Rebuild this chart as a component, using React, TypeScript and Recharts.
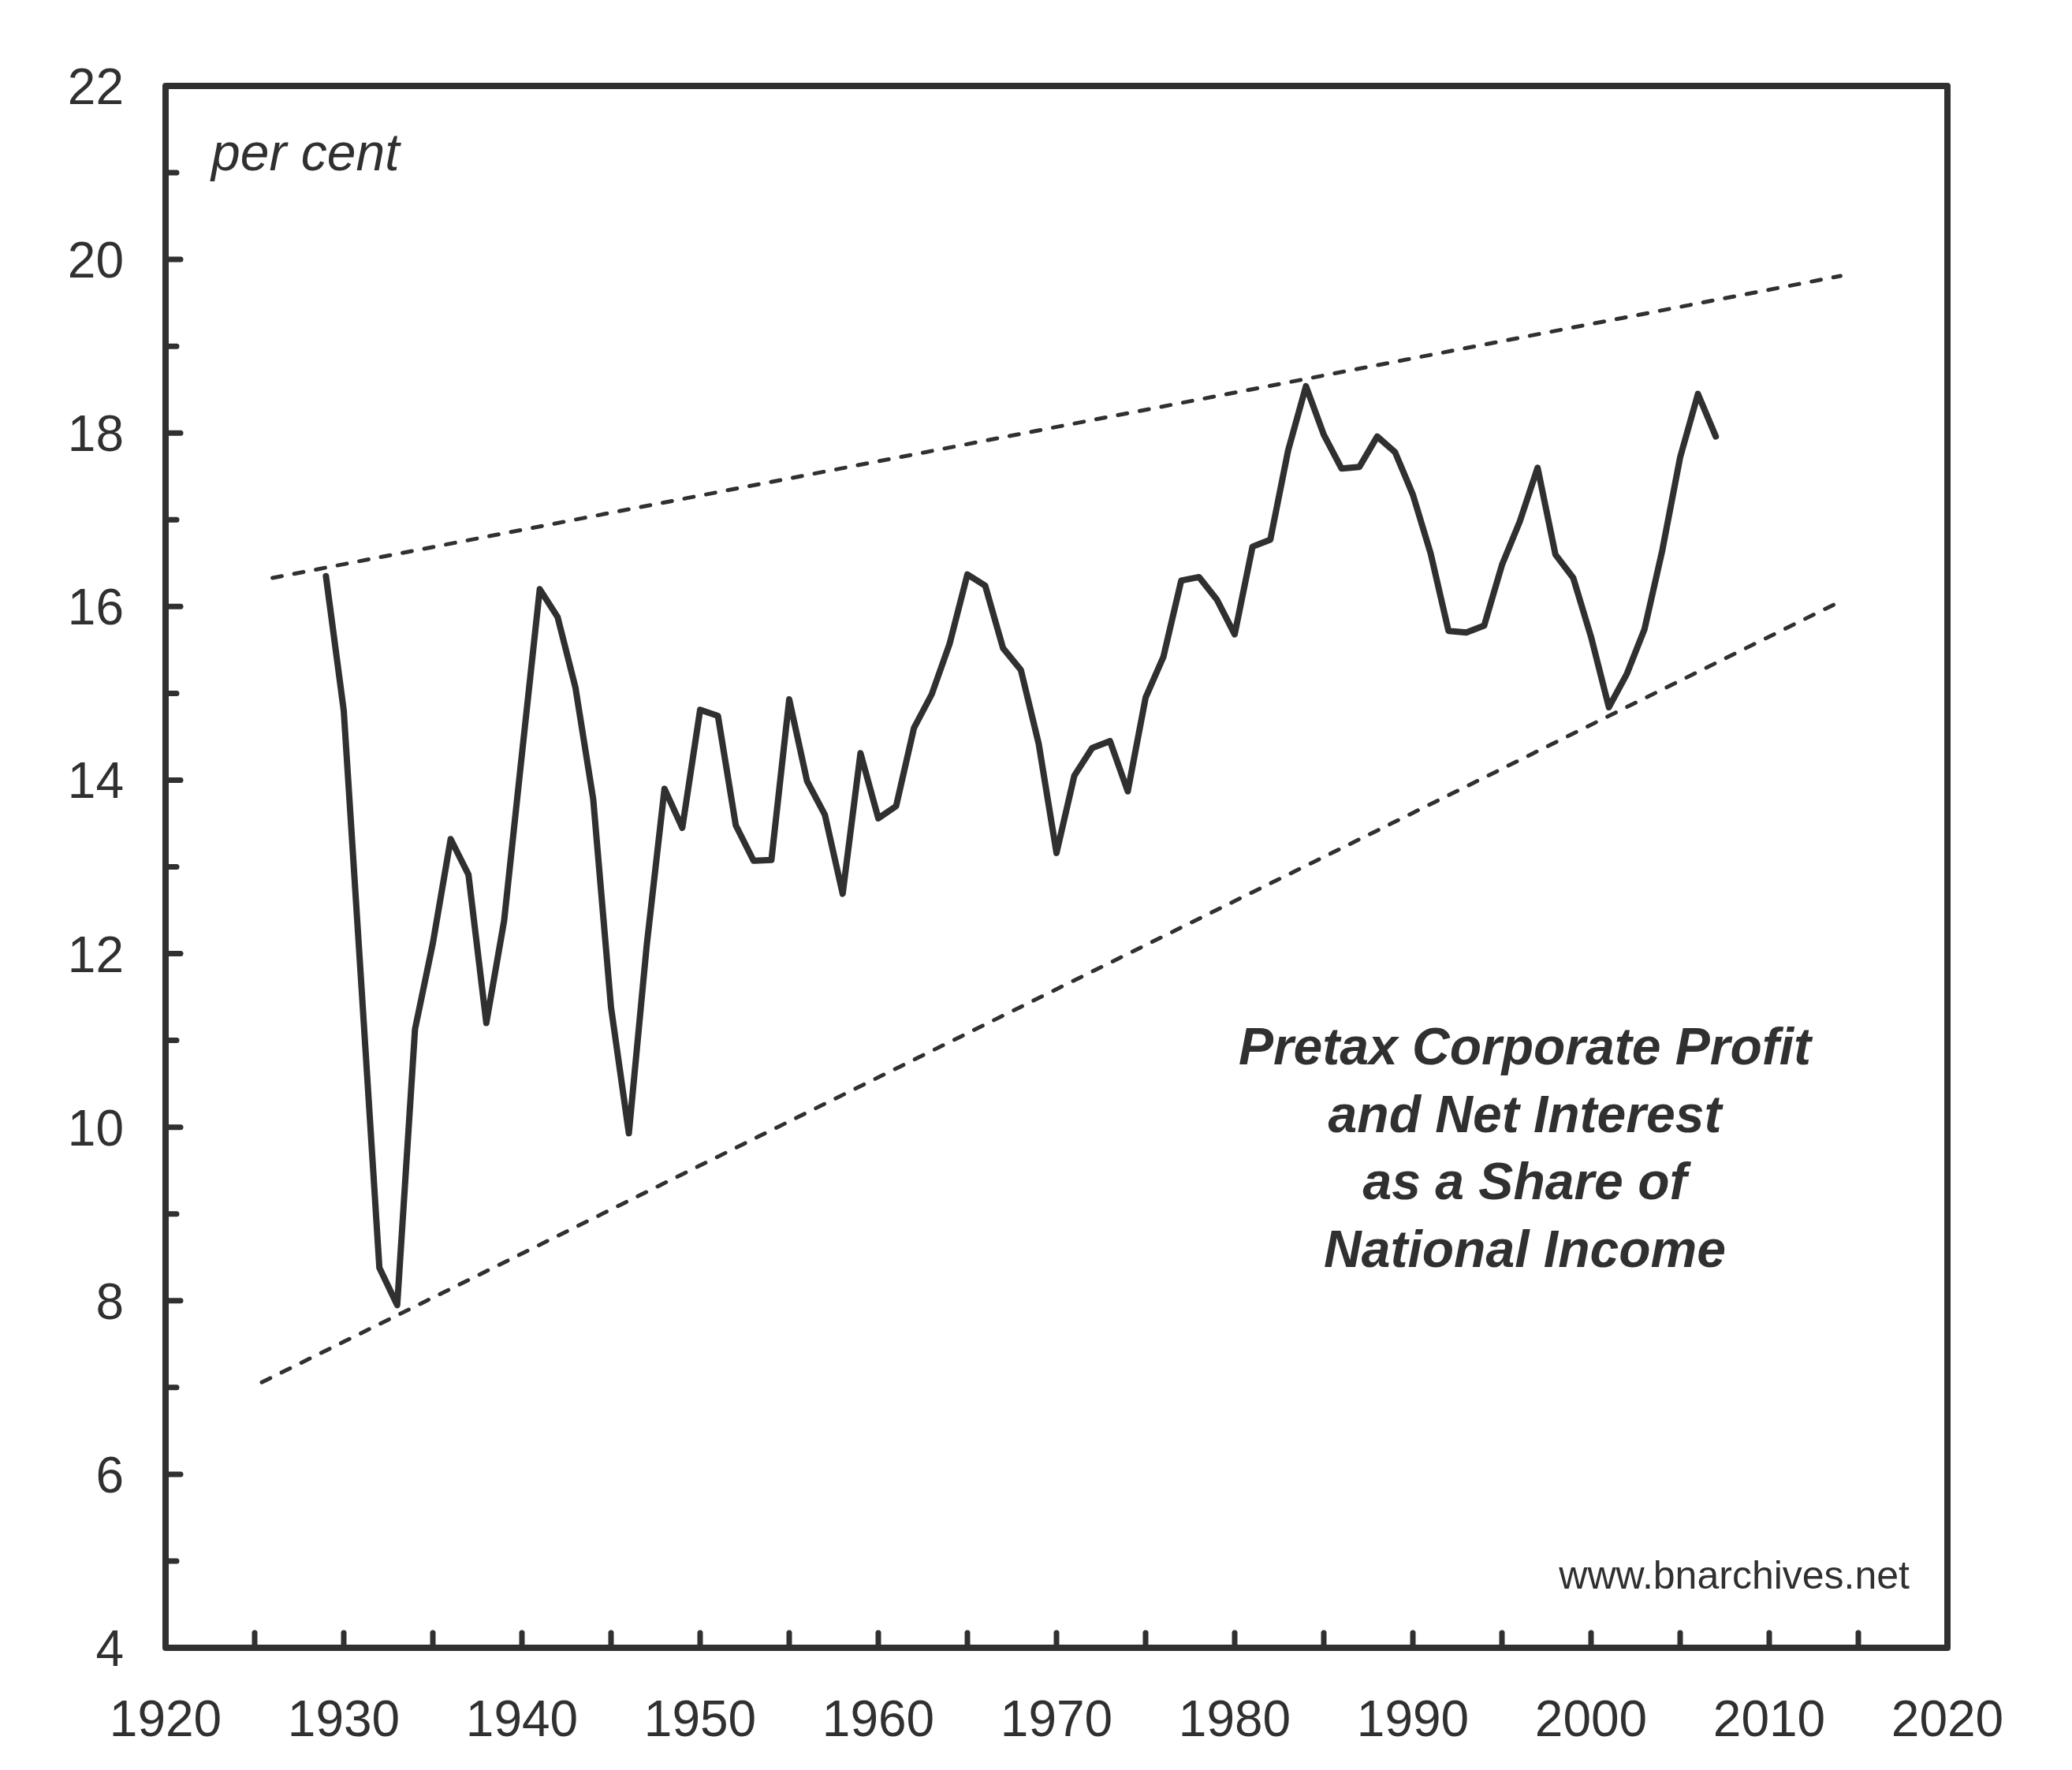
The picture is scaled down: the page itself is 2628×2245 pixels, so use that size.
import { Line, LineChart, ReferenceArea, XAxis, YAxis } from "recharts";

const INK = "#303030";
const FONT = "'Liberation Sans', Arial, Helvetica, sans-serif";

// Pretax corporate profit + net interest, % of national income
const years = [
  1929, 1930, 1931, 1932, 1933, 1934, 1935, 1936, 1937, 1938, 1939, 1940, 1941, 1942, 1943, 1944,
  1945, 1946, 1947, 1948, 1949, 1950, 1951, 1952, 1953, 1954, 1955, 1956, 1957, 1958, 1959, 1960,
  1961, 1962, 1963, 1964, 1965, 1966, 1967, 1968, 1969, 1970, 1971, 1972, 1973, 1974, 1975, 1976,
  1977, 1978, 1979, 1980, 1981, 1982, 1983, 1984, 1985, 1986, 1987, 1988, 1989, 1990, 1991, 1992,
  1993, 1994, 1995, 1996, 1997, 1998, 1999, 2000, 2001, 2002, 2003, 2004, 2005, 2006, 2007,
];
const shareOfIncome = [
  16.35, 14.8, 11.6, 8.38, 7.95, 11.13, 12.12, 13.32, 12.91, 11.2, 12.38, 14.3, 16.2, 15.88, 15.07, 13.78,
  11.38, 9.93, 12.09, 13.9, 13.45, 14.81, 14.74, 13.48, 13.07, 13.08, 14.93, 13.99, 13.6, 12.69, 14.31, 13.56,
  13.7, 14.6, 14.99, 15.57, 16.37, 16.24, 15.52, 15.27, 14.42, 13.16, 14.05, 14.37, 14.45, 13.87, 14.95, 15.42,
  16.3, 16.34, 16.08, 15.68, 16.69, 16.77, 17.8, 18.54, 17.98, 17.59, 17.61, 17.96, 17.78, 17.29, 16.61, 15.72,
  15.7, 15.78, 16.48, 16.98, 17.6, 16.6, 16.33, 15.65, 14.84, 15.22, 15.74, 16.65, 17.72, 18.45, 17.96,
];

// dashed channel
const upperTrend = [
  { year: 1926, value: 16.33 },
  { year: 2014, value: 19.81 },
];
const lowerTrend = [
  { year: 1925.4, value: 7.06 },
  { year: 2014, value: 16.06 },
];

const xTicks = [
  1920, 1925, 1930, 1935, 1940, 1945, 1950, 1955, 1960, 1965, 1970, 1975, 1980, 1985, 1990, 1995, 2000,
  2005, 2010, 2015, 2020,
];
const xLabels = [1920, 1930, 1940, 1950, 1960, 1970, 1980, 1990, 2000, 2010, 2020];
const yTicks = [4, 5, 6, 7, 8, 9, 10, 11, 12, 13, 14, 15, 16, 17, 18, 19, 20, 21, 22];
const yLabels = [4, 6, 8, 10, 12, 14, 16, 18, 20, 22];

const titleLines = ["Pretax Corporate Profit", "and Net Interest", "as a Share of", "National Income"];

const series = years.map((year, i) => ({ year, share: shareOfIncome[i] }));

function YearTick({ x, y, payload }: any) {
  const year = payload.value as number;
  const edge = year === 1920 || year === 2020;
  return (
    <g>
      {!edge && (
        <line x1={x} y1={y} x2={x} y2={y - 19} stroke={INK} strokeWidth={7} strokeLinecap="round" />
      )}
      {xLabels.includes(year) && (
        <text x={x} y={y + 112} textAnchor="middle" fill={INK} fontSize={64} fontFamily={FONT}>
          {year}
        </text>
      )}
    </g>
  );
}

function PercentTick({ x, y, payload }: any) {
  const v = payload.value as number;
  const labelled = yLabels.includes(v);
  const edge = v === 4 || v === 22;
  return (
    <g>
      {!edge && (
        <line
          x1={x}
          y1={y}
          x2={x + (labelled ? 19 : 14)}
          y2={y}
          stroke={INK}
          strokeWidth={7}
          strokeLinecap="round"
        />
      )}
      {labelled && (
        <text x={x - 53} y={y + 23} textAnchor="end" fill={INK} fontSize={64} fontFamily={FONT}>
          {v}
        </text>
      )}
    </g>
  );
}

export default function App() {
  return (
    <div style={{ position: "absolute", left: 0, top: 0, width: 2628, height: 2245, background: "#fff" }}>
      <LineChart width={2628} height={2245} data={series} margin={{ top: 109, right: 158, bottom: 55, left: 0 }}>
        <XAxis
          dataKey="year"
          type="number"
          domain={[1920, 2020]}
          ticks={xTicks}
          interval={0}
          axisLine={false}
          tickLine={false}
          tickSize={0}
          tickMargin={0}
          height={100}
          tick={<YearTick />}
        />
        <YAxis
          type="number"
          domain={[4, 22]}
          ticks={yTicks}
          interval={0}
          axisLine={false}
          tickLine={false}
          tickSize={0}
          tickMargin={0}
          width={210}
          tick={<PercentTick />}
        />
        <ReferenceArea
          x1={1920}
          x2={2020}
          y1={4}
          y2={22}
          fill="none"
          fillOpacity={0}
          stroke={INK}
          strokeWidth={8}
          strokeLinejoin="round"
        />
        <Line
          data={upperTrend}
          dataKey="value"
          type="linear"
          stroke={INK}
          strokeWidth={5}
          strokeDasharray="12 16"
          strokeLinecap="round"
          dot={false}
          activeDot={false}
          isAnimationActive={false}
        />
        <Line
          data={lowerTrend}
          dataKey="value"
          type="linear"
          stroke={INK}
          strokeWidth={5}
          strokeDasharray="12 16"
          strokeLinecap="round"
          dot={false}
          activeDot={false}
          isAnimationActive={false}
        />
        <Line
          dataKey="share"
          type="linear"
          stroke={INK}
          strokeWidth={8}
          strokeLinecap="round"
          strokeLinejoin="round"
          dot={false}
          activeDot={false}
          isAnimationActive={false}
        />
      </LineChart>
      <svg
        width={2628}
        height={2245}
        style={{ position: "absolute", left: 0, top: 0, pointerEvents: "none" }}
        fontFamily={FONT}
        fill={INK}
      >
        <text x={268} y={216} fontSize={66} fontStyle="italic">
          per cent
        </text>
        {titleLines.map((line, i) => (
          <text key={line} x={1934} y={1350 + i * 85.5} fontSize={66} fontWeight="bold" fontStyle="italic" textAnchor="middle">
            {line}
          </text>
        ))}
        <text x={2422} y={2015} fontSize={50} textAnchor="end">
          www.bnarchives.net
        </text>
      </svg>
    </div>
  );
}
